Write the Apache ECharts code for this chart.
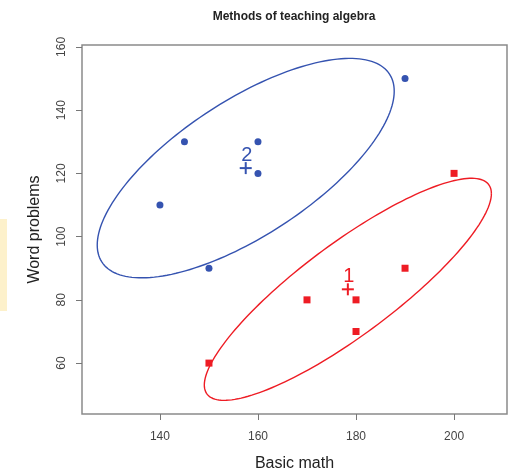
<!DOCTYPE html>
<html>
<head>
<meta charset="utf-8">
<script src="https://cdn.jsdelivr.net/npm/echarts@6/dist/echarts.min.js"></script>
<style>html,body{margin:0;padding:0;background:#fff}#c{width:512px;height:472px}</style>
</head>
<body>
<div id="c"></div>
<script>
// ---- data ----
const group1Math = [150, 170, 180, 180, 190, 200];
const group1Word = [60, 80, 80, 70, 90, 120];
const group2Math = [140, 145, 150, 160, 160, 190];
const group2Word = [110, 130, 90, 130, 120, 150];
const groupLabels = ['1', '2'];
const xTicks = [140, 160, 180, 200];
const yTicks = [60, 80, 100, 120, 140, 160];
const ellipseRadius = 1.70; // Mahalanobis radius

const RED = '#ee1c24';
const BLUE = '#3553b0';
const FONT = 'Liberation Sans, Arial, sans-serif';

function stats(xs, ys) {
  const n = xs.length;
  const mx = xs.reduce((a, b) => a + b, 0) / n;
  const my = ys.reduce((a, b) => a + b, 0) / n;
  let sxx = 0, syy = 0, sxy = 0;
  for (let i = 0; i < n; i++) {
    sxx += (xs[i] - mx) ** 2;
    syy += (ys[i] - my) ** 2;
    sxy += (xs[i] - mx) * (ys[i] - my);
  }
  return { mx, my, sxx: sxx / (n - 1), syy: syy / (n - 1), sxy: sxy / (n - 1) };
}
const s1 = stats(group1Math, group1Word);
const s2 = stats(group2Math, group2Word);

function ellipseSeries(st, color) {
  return {
    type: 'custom',
    data: [[st.mx, st.my]],
    silent: true,
    z: 2,
    renderItem: function (params, api) {
      const lxx = Math.sqrt(st.sxx);
      const lyx = st.sxy / lxx;
      const lyy = Math.sqrt(st.syy - lyx * lyx);
      const pts = [];
      for (let k = 0; k <= 180; k++) {
        const t = (k / 180) * Math.PI * 2;
        const u = Math.cos(t) * ellipseRadius, v = Math.sin(t) * ellipseRadius;
        pts.push(api.coord([st.mx + lxx * u, st.my + lyx * u + lyy * v]));
      }
      return { type: 'polyline', shape: { points: pts }, style: { stroke: color, lineWidth: 1.4, fill: null } };
    }
  };
}

function centroidSeries(st, label, color) {
  return {
    type: 'custom',
    data: [[st.mx, st.my]],
    silent: true,
    z: 4,
    renderItem: function (params, api) {
      const p = api.coord([api.value(0), api.value(1)]);
      const h = 6;
      return {
        type: 'group',
        children: [
          { type: 'line', shape: { x1: p[0] - h, y1: p[1], x2: p[0] + h, y2: p[1] }, style: { stroke: color, lineWidth: 2 } },
          { type: 'line', shape: { x1: p[0], y1: p[1] - h, x2: p[0], y2: p[1] + h }, style: { stroke: color, lineWidth: 2 } },
          { type: 'text', x: p[0] + 1, y: p[1] - 3, style: { text: label, fill: color, font: '20px ' + FONT, align: 'center', verticalAlign: 'bottom' } }
        ]
      };
    }
  };
}

const chart = echarts.init(document.getElementById('c'), null, { renderer: 'canvas' });
chart.setOption({
  animation: false,
  backgroundColor: '#fff',
  textStyle: { fontFamily: FONT },
  title: {
    text: 'Methods of teaching algebra',
    left: 294, top: 11, padding: 0, textAlign: 'center',
    textStyle: { fontSize: 12, fontWeight: 'bold', color: '#222', fontFamily: FONT }
  },
  graphic: [
    { type: 'rect', left: 0, top: 219, shape: { width: 7, height: 92 }, style: { fill: '#fdf1cb' }, silent: true }
  ],
  grid: { left: 82, right: 5, top: 45, bottom: 58, outerBoundsMode: 'none', containLabel: false, show: true, borderColor: '#8a8a8a', borderWidth: 1.5, backgroundColor: '#fff' },
  xAxis: {
    type: 'value', min: 124.1, max: 210.8,
    name: 'Basic math', nameLocation: 'middle', nameGap: 42,
    nameTextStyle: { fontSize: 16, color: '#222', fontFamily: FONT },
    axisLine: { show: false },
    splitLine: { show: false },
    axisTick: { show: true, length: 6, customValues: xTicks, lineStyle: { color: '#777' } },
    axisLabel: { customValues: xTicks, margin: 17, fontSize: 12, color: '#444', fontFamily: FONT }
  },
  yAxis: {
    type: 'value', min: 43.9, max: 160.6,
    name: 'Word problems', nameLocation: 'middle', nameGap: 39,
    nameTextStyle: { fontSize: 16, color: '#222', fontFamily: FONT },
    axisLine: { show: false },
    splitLine: { show: false },
    axisTick: { show: true, length: 6, customValues: yTicks, lineStyle: { color: '#777' } },
    axisLabel: { customValues: yTicks, rotate: 90, margin: 14, fontSize: 12, color: '#444', fontFamily: FONT }
  },
  series: [
    ellipseSeries(s1, RED),
    ellipseSeries(s2, BLUE),
    {
      type: 'scatter', symbol: 'rect', symbolSize: 7, z: 3,
      itemStyle: { color: RED, opacity: 1 },
      data: group1Math.map((x, i) => [x, group1Word[i]])
    },
    {
      type: 'scatter', symbol: 'circle', symbolSize: 7, z: 3,
      itemStyle: { color: BLUE, opacity: 1 },
      data: group2Math.map((x, i) => [x, group2Word[i]])
    },
    centroidSeries(s1, groupLabels[0], RED),
    centroidSeries(s2, groupLabels[1], BLUE)
  ]
});
</script>
</body>
</html>
